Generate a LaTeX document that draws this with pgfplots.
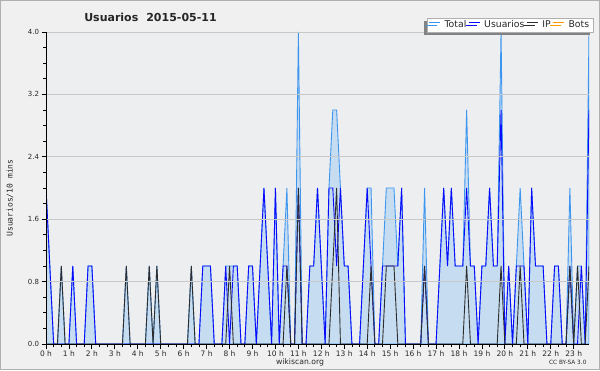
\documentclass[border=0pt]{standalone}
\usepackage{pgfplots}
\usepackage{pgfplotstable}
\pgfplotsset{compat=1.18}
\usepackage{fontspec}
\setmainfont{DejaVu Sans}
\setmonofont{DejaVu Sans Mono}
\usetikzlibrary{shadows}
\definecolor{outerbg}{RGB}{240,240,240}
\definecolor{plotbg}{RGB}{237,238,240}
\definecolor{framegray}{RGB}{176,176,176}
\definecolor{gridgray}{RGB}{200,200,200}
\definecolor{totalline}{RGB}{60,150,240}
\definecolor{totalfill}{RGB}{198,221,241}
\definecolor{usercol}{RGB}{10,10,255}
\definecolor{ipcol}{RGB}{45,45,45}
\definecolor{botcol}{RGB}{255,153,0}
\definecolor{labelcol}{RGB}{40,40,40}
\definecolor{shadowcol}{RGB}{130,130,130}

\pgfplotstableread{
x t u p b
0 2 2 0 0
1 1 1 0 0
2 0 0 0 0
3 0 0 0 0
4 1 0 1 0
5 0 0 0 0
6 0 0 0 0
7 1 1 0 0
8 0 0 0 0
9 0 0 0 0
10 0 0 0 0
11 1 1 0 0
12 1 1 0 0
13 0 0 0 0
14 0 0 0 0
15 0 0 0 0
16 0 0 0 0
17 0 0 0 0
18 0 0 0 0
19 0 0 0 0
20 0 0 0 0
21 1 0 1 0
22 0 0 0 0
23 0 0 0 0
24 0 0 0 0
25 0 0 0 0
26 0 0 0 0
27 1 0 1 0
28 0 0 0 0
29 1 0 1 0
30 0 0 0 0
31 0 0 0 0
32 0 0 0 0
33 0 0 0 0
34 0 0 0 0
35 0 0 0 0
36 0 0 0 0
37 0 0 0 0
38 1 0 1 0
39 0 0 0 0
40 0 0 0 0
41 1 1 0 0
42 1 1 0 0
43 1 1 0 0
44 0 0 0 0
45 0 0 0 0
46 0 0 0 0
47 1 1 0 0
48 1 0 1 0
49 1 1 0 0
50 1 1 0 0
51 0 0 0 0
52 0 0 0 0
53 1 1 0 0
54 1 1 0 0
55 0 0 0 0
56 1 1 0 0
57 2 2 0 0
58 1 1 0 0
59 0 0 0 0
60 2 2 0 0
61 0 0 0 0
62 1 1 0 0
63 2 1 1 0
64 0 0 0 0
65 0 0 0 0
66 4 2 2 0
67 0 0 0 0
68 0 0 0 0
69 1 1 0 0
70 1 1 0 0
71 2 2 0 0
72 1 1 0 0
73 0 0 0 0
74 2 2 0 0
75 3 2 1 0
76 3 1 2 0
77 2 2 0 0
78 1 1 0 0
79 1 1 0 0
80 0 0 0 0
81 0 0 0 0
82 0 0 0 0
83 1 1 0 0
84 2 2 0 0
85 2 1 1 0
86 0 0 0 0
87 0 0 0 0
88 1 1 0 0
89 2 1 1 0
90 2 1 1 0
91 2 1 1 0
92 1 1 0 0
93 2 2 0 0
94 0 0 0 0
95 0 0 0 0
96 0 0 0 0
97 0 0 0 0
98 0 0 0 0
99 2 1 1 0
100 0 0 0 0
101 0 0 0 0
102 0 0 0 0
103 1 1 0 0
104 2 2 0 0
105 1 1 0 0
106 2 2 0 0
107 1 1 0 0
108 1 1 0 0
109 1 1 0 0
110 3 2 1 0
111 1 1 0 0
112 1 1 0 0
113 0 0 0 0
114 1 1 0 0
115 1 1 0 0
116 2 2 0 0
117 1 1 0 0
118 1 1 0 0
119 4 3 1 0
120 0 0 0 0
121 1 1 0 0
122 0 0 0 0
123 1 1 0 0
124 2 1 1 0
125 1 1 0 0
126 0 0 0 0
127 2 2 0 0
128 1 1 0 0
129 1 1 0 0
130 1 1 0 0
131 0 0 0 0
132 0 0 0 0
133 1 1 0 0
134 1 1 0 0
135 0 0 0 0
136 0 0 0 0
137 2 1 1 0
138 0 0 0 0
139 1 0 1 0
140 1 1 0 0
141 0 0 0 0
142 4 3 1 0
}\datatable

\begin{document}
\begin{tikzpicture}[x=1pt,y=1pt]
\useasboundingbox (0,0) rectangle (600,370);
\fill[outerbg] (0,0) rectangle (600,370);
\draw[framegray, line width=1pt] (0.5,0.5) rectangle (599.5,369.5);
\begin{axis}[
  at={(46pt,26pt)}, anchor=south west,
  scale only axis, width=543pt, height=312pt,
  xmin=0, xmax=142, ymin=0, ymax=4,
  axis background/.style={fill=plotbg},
  axis x line=bottom, axis y line=left,
  axis line style={-, black, line width=1pt},
  axis on top,
  xtick={0,6,...,138},
  xticklabels={0 h,1 h,2 h,3 h,4 h,5 h,6 h,7 h,8 h,9 h,10 h,11 h,12 h,13 h,14 h,15 h,16 h,17 h,18 h,19 h,20 h,21 h,22 h,23 h},
  minor x tick num=2,
  ytick={0,0.8,1.6,2.4,3.2,4},
  yticklabels={0.0,0.8,1.6,2.4,3.2,4.0},
  minor y tick num=3,
  tick align=outside,
  major tick length=4.5pt, minor tick length=3pt,
  tick style={black, line width=0.8pt},
  ymajorgrids, major grid style={gridgray, line width=0.7pt},
  x tick label style={font=\fontsize{7.5}{9}\selectfont, text=labelcol, yshift=1pt},
  y tick label style={font=\fontsize{7}{8}\selectfont, text=labelcol, xshift=1pt},
  legend columns=4,
  legend style={at={(1.008,1.0)}, anchor=south east, draw=framegray, fill=white,
    font=\fontsize{9.3}{10}\selectfont, text=labelcol,
    inner xsep=2pt, inner ysep=0.5pt,
    drop shadow={shadow xshift=-3pt, shadow yshift=-3pt, fill=shadowcol, opacity=1},
    /tikz/every odd column/.append style={column sep=2pt},
    /tikz/every even column/.append style={column sep=0pt}},
  legend image code/.code={\draw[#1] (0pt,3pt) -- (11pt,3pt);},
]
\addplot[draw=totalline, line width=0.9pt, fill=totalfill] table[x=x,y=t]{\datatable} \closedcycle;
\addlegendentry{Total}
\addplot[draw=usercol, line width=0.9pt] table[x=x,y=u]{\datatable};
\addlegendentry{Usuarios}
\addplot[draw=ipcol, line width=0.9pt] table[x=x,y=p]{\datatable};
\addlegendentry{IP}
\addplot[draw=botcol, line width=0.9pt] table[x=x,y=b]{\datatable};
\addlegendentry{Bots}
\end{axis}
\node[font=\bfseries\fontsize{11}{13}\selectfont, text=black!85] at (150.5,353) {Usuarios\hspace{8pt}2015-05-11};
\node[rotate=90, font=\ttfamily\fontsize{8}{9}\selectfont, text=labelcol] at (10,172) {Usuarios/10 mins};
\node[font=\fontsize{7.7}{9}\selectfont, text=labelcol] at (300,8) {wikiscan.org};
\node[anchor=east, font=\fontsize{5.8}{7}\selectfont, text=labelcol] at (590,7.5) {CC BY-SA 3.0};
\end{tikzpicture}
\end{document}
